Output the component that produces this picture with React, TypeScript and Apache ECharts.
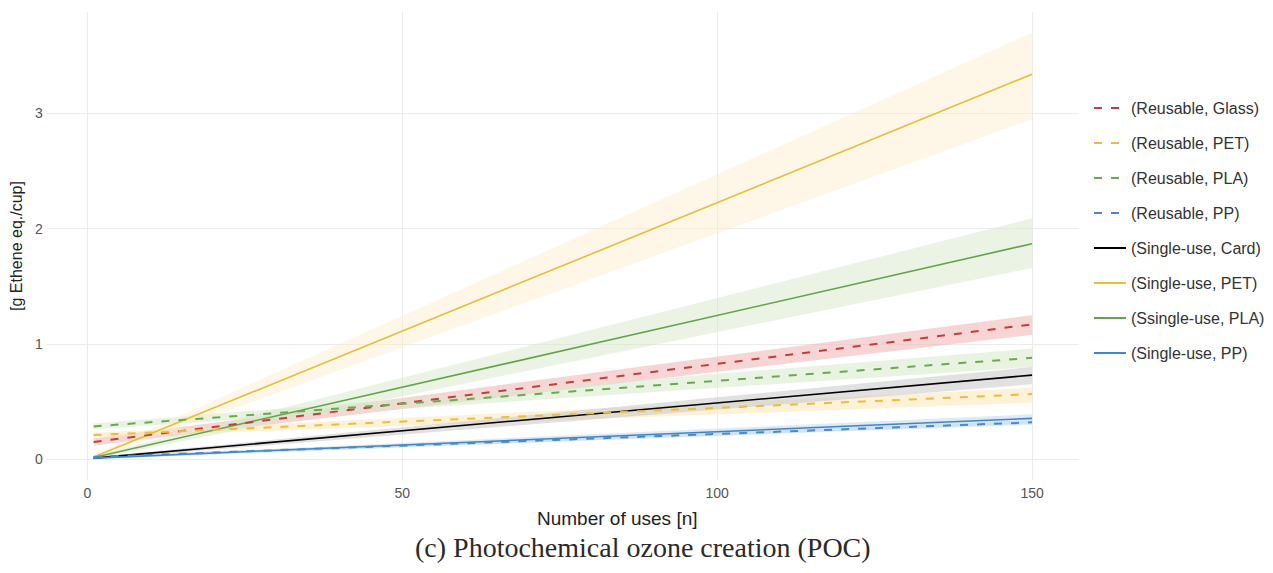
import React, { useEffect, useRef } from "react";
import * as echarts from "echarts";

// x values (number of uses) at which the fitted lines are read
const USES = [1, 150];

const SERIES_NAMES = [
  "(Reusable, Glass)",
  "(Reusable, PET)",
  "(Reusable, PLA)",
  "(Reusable, PP)",
  "(Single-use, Card)",
  "(Single-use, PET)",
  "(Ssingle-use, PLA)",
  "(Single-use, PP)",
];

// mean values at USES
const REUSABLE_GLASS = [0.15, 1.17];
const REUSABLE_PET = [0.21, 0.565];
const REUSABLE_PLA = [0.285, 0.88];
const REUSABLE_PP = [0.02, 0.32];
const SINGLE_CARD = [0.01, 0.73];
const SINGLE_PET = [0.02, 3.34];
const SINGLE_PLA = [0.015, 1.87];
const SINGLE_PP = [0.01, 0.355];

// lower bounds of the uncertainty bands at USES
const REUSABLE_GLASS_LOW = [0.12, 1.08];
const REUSABLE_PET_LOW = [0.19, 0.49];
const REUSABLE_PLA_LOW = [0.26, 0.8];
const REUSABLE_PP_LOW = [0.01, 0.3];
const SINGLE_CARD_LOW = [0.0, 0.65];
const SINGLE_PET_LOW = [0.0, 2.95];
const SINGLE_PLA_LOW = [0.0, 1.66];
const SINGLE_PP_LOW = [0.0, 0.31];

// upper bounds of the uncertainty bands at USES
const REUSABLE_GLASS_HIGH = [0.18, 1.25];
const REUSABLE_PET_HIGH = [0.23, 0.62];
const REUSABLE_PLA_HIGH = [0.31, 0.96];
const REUSABLE_PP_HIGH = [0.03, 0.34];
const SINGLE_CARD_HIGH = [0.02, 0.8];
const SINGLE_PET_HIGH = [0.04, 3.7];
const SINGLE_PLA_HIGH = [0.03, 2.09];
const SINGLE_PP_HIGH = [0.02, 0.39];

const X_TICKS = [0, 50, 100, 150];
const Y_TICKS = [0, 1, 2, 3];

const MEANS = [REUSABLE_GLASS, REUSABLE_PET, REUSABLE_PLA, REUSABLE_PP, SINGLE_CARD, SINGLE_PET, SINGLE_PLA, SINGLE_PP];
const LOWS = [REUSABLE_GLASS_LOW, REUSABLE_PET_LOW, REUSABLE_PLA_LOW, REUSABLE_PP_LOW, SINGLE_CARD_LOW, SINGLE_PET_LOW, SINGLE_PLA_LOW, SINGLE_PP_LOW];
const HIGHS = [REUSABLE_GLASS_HIGH, REUSABLE_PET_HIGH, REUSABLE_PLA_HIGH, REUSABLE_PP_HIGH, SINGLE_CARD_HIGH, SINGLE_PET_HIGH, SINGLE_PLA_HIGH, SINGLE_PP_HIGH];

const LINE_COLORS = ["#C43C3C", "#E8BE3C", "#6BA84F", "#4A88C6", "#000000", "#E3C03A", "#64A348", "#4683C4"];
const BAND_COLORS = ["#F2B9B9", "#FBE8B8", "#D7E9CB", "#C4DDF2", "#C8C8C8", "#FCEBC9", "#D6E8CA", "#C4DDF2"];
const BAND_OPACITY = [0.6, 0.55, 0.55, 0.6, 0.55, 0.45, 0.5, 0.6];
const DASHED = [true, true, true, true, false, false, false, false];

const FONT = "Liberation Sans";

export default function App() {
  const ref = useRef<HTMLDivElement>(null);

  useEffect(() => {
    if (!ref.current) return;
    const chart = echarts.init(ref.current, undefined, { renderer: "svg" });

    const bandSeries = MEANS.map((_, i) => ({
      type: "custom",
      name: "band" + i,
      silent: true,
      z: 1,
      clip: true,
      data: USES.map((u, k) => [u, LOWS[i][k], HIGHS[i][k]]),
      renderItem: (params: any, api: any) => {
        if (params.dataIndex !== 0) return null;
        const pts = [
          api.coord([USES[0], LOWS[i][0]]),
          api.coord([USES[1], LOWS[i][1]]),
          api.coord([USES[1], HIGHS[i][1]]),
          api.coord([USES[0], HIGHS[i][0]]),
        ];
        return {
          type: "polygon",
          shape: { points: pts },
          style: { fill: BAND_COLORS[i], opacity: BAND_OPACITY[i] },
        };
      },
    }));

    const lineSeries = MEANS.map((m, i) => ({
      type: "line",
      name: SERIES_NAMES[i],
      data: USES.map((u, k) => [u, m[k]]),
      symbol: "none",
      z: 3 + (DASHED[i] ? 1 : 0),
      lineStyle: {
        color: LINE_COLORS[i],
        width: DASHED[i] ? 2 : 1.6,
        type: DASHED[i] ? [8, 9] : "solid",
      },
      itemStyle: { color: LINE_COLORS[i] },
    }));

    chart.setOption({
      animation: false,
      backgroundColor: "#ffffff",
      grid: { left: 43, top: 12, width: 1036, height: 468, containLabel: false },
      xAxis: {
        type: "value",
        min: -6.45,
        max: 157.45,
        axisLine: { show: false },
        axisTick: { show: false, customValues: X_TICKS },
        axisLabel: {
          customValues: X_TICKS,
          color: "#555",
          fontSize: 14,
          fontFamily: FONT,
          margin: 6,
        },
        splitLine: { show: true, lineStyle: { color: "#EBEBEB", width: 1 } },
      },
      yAxis: {
        type: "value",
        min: -0.18,
        max: 3.88,
        name: "[g Ethene eq./cup]",
        nameLocation: "middle",
        nameGap: 14,
        nameTextStyle: { fontSize: 16, color: "#222", fontFamily: FONT },
        axisLine: { show: false },
        axisTick: { show: false, customValues: Y_TICKS },
        axisLabel: {
          customValues: Y_TICKS,
          color: "#555",
          fontSize: 14,
          fontFamily: FONT,
          margin: 4,
        },
        splitLine: { show: true, lineStyle: { color: "#EBEBEB", width: 1 } },
      },
      legend: {
        data: SERIES_NAMES,
        orient: "vertical",
        left: 1093,
        top: 100,
        padding: 0,
        itemWidth: 32,
        itemHeight: 14,
        itemGap: 19,
        itemStyle: { opacity: 0 },
        textStyle: { fontSize: 16, color: "#333", fontFamily: FONT },
        selectedMode: false,
      },
      graphic: [
        {
          type: "text",
          left: 537,
          top: 509,
          style: {
            text: "Number of uses [n]",
            fontSize: 19,
            fontFamily: FONT,
            fill: "#222",
          },
        },
        {
          type: "text",
          left: 415,
          top: 533,
          style: {
            text: "(c) Photochemical ozone creation (POC)",
            fontSize: 28,
            fontFamily: "Liberation Serif",
            fill: "#2a2a2a",
          },
        },
      ],
      series: [...bandSeries, ...lineSeries],
    });

    return () => chart.dispose();
  }, []);

  return (
    <div
      ref={ref}
      style={{ position: "absolute", left: 0, top: 0, width: 1273, height: 573 }}
    />
  );
}
